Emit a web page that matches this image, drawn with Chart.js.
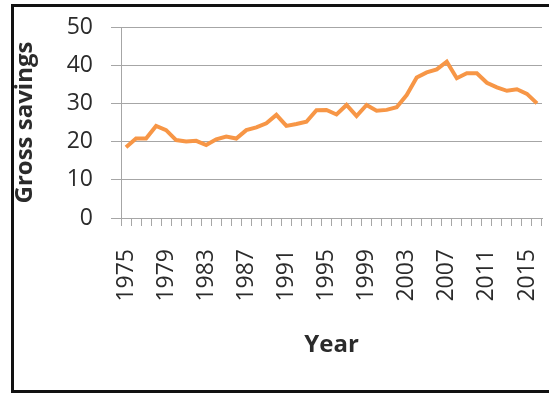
<!DOCTYPE html>
<html>
<head>
<meta charset="utf-8">
<script src="https://cdn.jsdelivr.net/npm/chart.js@4/dist/chart.umd.min.js"></script>
<style>
  html, body { margin: 0; padding: 0; background: #fff; }
  #wrap { position: relative; width: 549px; height: 394px; overflow: hidden; }
  #c { position: absolute; left: 0; top: 0; }
  #frame { position: absolute; left: 11px; top: 4px; width: 600px; height: 383px;
           border: 3px solid #111; pointer-events: none; }
</style>
</head>
<body>
<div id="wrap">
  <canvas id="c" width="549" height="394"></canvas>
  <div id="frame"></div>
</div>
<script>
// Annual gross savings, 1975-2016
const years = [
  1975, 1976, 1977, 1978, 1979, 1980, 1981, 1982, 1983, 1984,
  1985, 1986, 1987, 1988, 1989, 1990, 1991, 1992, 1993, 1994,
  1995, 1996, 1997, 1998, 1999, 2000, 2001, 2002, 2003, 2004,
  2005, 2006, 2007, 2008, 2009, 2010, 2011, 2012, 2013, 2014,
  2015, 2016
];
const grossSavings = [
  18.5, 20.8, 20.8, 24.1, 23.0, 20.4, 20.0, 20.2, 19.1, 20.6,
  21.3, 20.8, 23.0, 23.7, 24.8, 27.0, 24.1, 24.6, 25.2, 28.2,
  28.3, 27.1, 29.6, 26.7, 29.6, 28.1, 28.3, 29.0, 32.2, 36.8,
  38.1, 38.9, 40.9, 36.6, 37.9, 37.9, 35.4, 34.2, 33.3, 33.7,
  32.5, 30.0
];
const yMin = 0, yMax = 50, yStep = 10;
const labelEvery = 4;

const FONT = '"Open Sans", Lato, "Liberation Sans", sans-serif';
const TEXT = '#2b2b2b';
const GRID = '#a6a6a6';

// keep the plot box fixed: no extra room for overhanging tick labels
function noOverhang(s) {
  s.paddingLeft = 0; s.paddingRight = 0; s.paddingTop = 0; s.paddingBottom = 0;
}

new Chart(document.getElementById('c'), {
  type: 'line',
  data: {
    labels: years.map(String),
    datasets: [{
      data: grossSavings,
      borderColor: '#F79646',
      borderWidth: 4,
      pointRadius: 0,
      tension: 0,
      fill: false
    }]
  },
  options: {
    responsive: false,
    animation: false,
    layout: { padding: { left: 0, right: 7, top: 27, bottom: 0 } },
    plugins: { legend: { display: false }, tooltip: { enabled: false } },
    scales: {
      x: {
        type: 'category',
        offset: true,
        grid: { offset: true, drawOnChartArea: false, drawTicks: true, tickLength: 8, color: GRID },
        border: { display: true, color: GRID, width: 1 },
        ticks: {
          autoSkip: false, minRotation: 90, maxRotation: 90, padding: 23,
          color: TEXT, font: { family: FONT, size: 23 },
          callback: (v, i) => (i % labelEvery === 0 ? years[i] : '')
        },
        title: {
          display: true, text: 'Year', color: TEXT,
          font: { family: FONT, size: 24, weight: 'bold' },
          padding: { top: 0, bottom: 34 }
        },
        afterFit: (s) => { s.height = 394 - 218; noOverhang(s); }
      },
      y: {
        min: yMin, max: yMax,
        grid: { color: GRID, tickLength: 10, lineWidth: 1 },
        border: { display: true, color: GRID, width: 1 },
        ticks: {
          stepSize: yStep, padding: 18, color: TEXT,
          font: { family: FONT, size: 23 }
        },
        title: {
          display: true, text: 'Gross savings', color: TEXT,
          font: { family: FONT, size: 24, weight: 'bold' },
          padding: { top: 11, bottom: 0 }
        },
        afterFit: (s) => { s.width = 121; noOverhang(s); }
      }
    }
  }
});
</script>
</body>
</html>
